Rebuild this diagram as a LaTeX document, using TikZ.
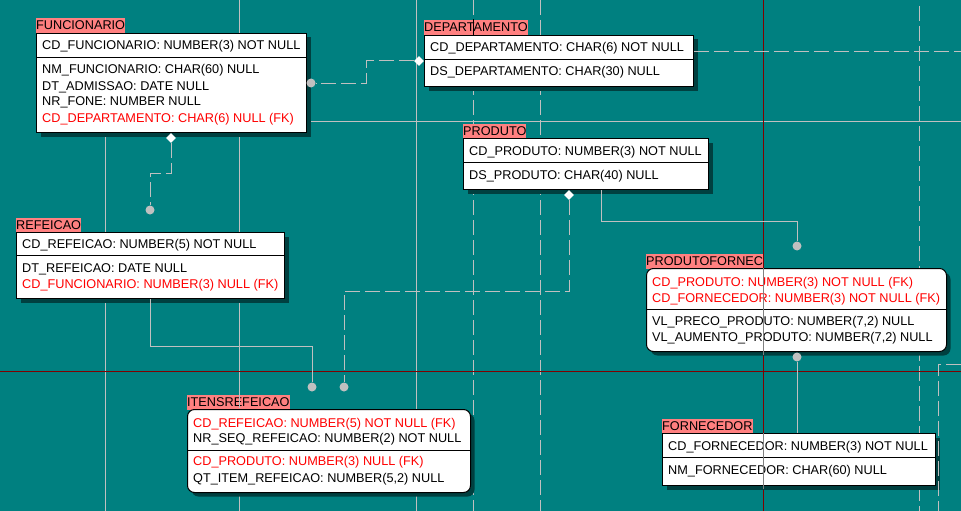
\documentclass[tikz,border=0pt]{standalone}
\usepackage{fontspec}
\setmainfont{Liberation Sans}
\usetikzlibrary{shapes.geometric,shadows}
\definecolor{bgteal}{HTML}{008080}
\definecolor{lgray}{HTML}{C0C0C0}
\definecolor{pgred}{HTML}{800000}
\definecolor{ttlred}{HTML}{FF8080}
\definecolor{fkred}{HTML}{FF0000}
\definecolor{shade}{HTML}{004040}
\begin{document}
\begin{tikzpicture}[x=1pt, y=-1pt,
  gridln/.style={draw=lgray, line width=1pt},
  pgbreak/.style={draw=lgray, line width=1pt, dash pattern=on 15pt off 5pt},
  redline/.style={draw=pgred, line width=1pt},
  ident/.style={draw=lgray, line width=1pt},
  nonident/.style={draw=lgray, line width=1pt, dash pattern=on 15pt off 5pt},
  tbl/.style={draw=black, fill=white, line width=1pt, anchor=north west, inner sep=0pt,
    drop shadow={shadow xshift=4pt, shadow yshift=-4pt, fill=shade, opacity=1}},
  ttl/.style={fill=ttlred, anchor=base west, inner xsep=0pt, inner ysep=1.5pt,
    text height=10pt, text depth=2pt, font=\fontsize{12.7}{15}\selectfont},
  attr/.style={anchor=base west, inner sep=0pt, font=\fontsize{12.7}{15}\selectfont},
  fk/.style={attr, text=fkred},
  fkdot/.style={circle, fill=lgray, inner sep=0pt, minimum size=9pt},
  pkdia/.style={diamond, fill=white, inner sep=0pt, minimum size=10pt}]
\fill[bgteal] (0,0) rectangle (961,511);
\useasboundingbox (0,0) rectangle (961,511);
% page grid
\draw[gridln] (105,133) -- (105,511);
\draw[gridln] (239,0) -- (239,511);
\draw[gridln] (416,0) -- (416,511);
\draw[gridln] (306,121) -- (961,121);
\draw[pgbreak] (473,0) -- (473,511);
\draw[pgbreak] (540,0) -- (540,511);
\draw[pgbreak] (919,6) -- (919,511);
\draw[redline] (763,0) -- (763,511);
\draw[redline] (0,371) -- (961,371);

% FUNCIONARIO
\node[ttl] (funT) at (36,30) {FUNCIONARIO};
\node[tbl, minimum width=270pt, minimum height=99pt] (fun) at (36,33) {};
\draw (36,57.5) -- (306,57.5);
\node[attr] (fun1) at (42,50) {CD\_FUNCIONARIO: NUMBER(3) NOT NULL};
\node[attr] (fun2) at (42,74) {NM\_FUNCIONARIO: CHAR(60) NULL};
\node[attr] (fun3) at (42,90) {DT\_ADMISSAO: DATE NULL};
\node[attr] (fun4) at (42,106) {NR\_FONE: NUMBER NULL};
\node[fk] (fun5) at (42,122) {CD\_DEPARTAMENTO: CHAR(6) NULL (FK)};

% DEPARTAMENTO
\node[ttl] (depT) at (424,32) {DEPARTAMENTO};
\node[tbl, minimum width=269pt, minimum height=51pt] (dep) at (424,35) {};
\draw (424,59.5) -- (693,59.5);
\node[attr] (dep1) at (430,52) {CD\_DEPARTAMENTO: CHAR(6) NOT NULL};
\node[attr] (dep2) at (430,76) {DS\_DEPARTAMENTO: CHAR(30) NULL};

% PRODUTO
\node[ttl] (prodT) at (463,135) {PRODUTO};
\node[tbl, minimum width=245pt, minimum height=51pt] (prod) at (463,138) {};
\draw (463,162.5) -- (708,162.5);
\node[attr] (prod1) at (469,155) {CD\_PRODUTO: NUMBER(3) NOT NULL};
\node[attr] (prod2) at (469,179) {DS\_PRODUTO: CHAR(40) NULL};

% REFEICAO
\node[ttl] (refT) at (16,229) {REFEICAO};
\node[tbl, minimum width=268pt, minimum height=66pt] (ref) at (16,232) {};
\draw (16,255) -- (284,255);
\node[attr] (ref1) at (22,248) {CD\_REFEICAO: NUMBER(5) NOT NULL};
\node[attr] (ref2) at (22,272) {DT\_REFEICAO: DATE NULL};
\node[fk] (ref3) at (22,288) {CD\_FUNCIONARIO: NUMBER(3) NULL (FK)};

% PRODUTOFORNEC
\node[ttl] (pfT) at (646,265) {PRODUTOFORNEC};
\node[tbl, rounded corners=7pt, minimum width=300pt, minimum height=83pt] (pf) at (646,268) {};
\draw (646,309) -- (946,309);
\node[fk] (pf1) at (652,286) {CD\_PRODUTO: NUMBER(3) NOT NULL (FK)};
\node[fk] (pf2) at (652,302) {CD\_FORNECEDOR: NUMBER(3) NOT NULL (FK)};
\node[attr] (pf3) at (652,325) {VL\_PRECO\_PRODUTO: NUMBER(7,2) NULL};
\node[attr] (pf4) at (652,341) {VL\_AUMENTO\_PRODUTO: NUMBER(7,2) NULL};

% ITENSREFEICAO
\node[ttl] (itT) at (187,406) {ITENSREFEICAO};
\node[tbl, rounded corners=7pt, minimum width=283pt, minimum height=83pt] (it) at (187,409) {};
\draw (187,450) -- (470,450);
\node[fk] (it1) at (193,427) {CD\_REFEICAO: NUMBER(5) NOT NULL (FK)};
\node[attr] (it2) at (193,442) {NR\_SEQ\_REFEICAO: NUMBER(2) NOT NULL};
\node[fk] (it3) at (193,465) {CD\_PRODUTO: NUMBER(3) NULL (FK)};
\node[attr] (it4) at (193,482) {QT\_ITEM\_REFEICAO: NUMBER(5,2) NULL};

% FORNECEDOR
\node[ttl] (fornT) at (662,430) {FORNECEDOR};
\node[tbl, minimum width=273pt, minimum height=52pt] (forn) at (662,433) {};
\draw (662,457.5) -- (935,457.5);
\node[attr] (forn1) at (668,450) {CD\_FORNECEDOR: NUMBER(3) NOT NULL};
\node[attr] (forn2) at (668,474) {NM\_FORNECEDOR: CHAR(60) NULL};

% relationship ends
\node[pkdia] (dFunS) at (171,138) {};
\node[fkdot] (dRefN) at (150,210) {};
\node[pkdia] (dDepW) at (419,61) {};
\node[fkdot] (dFunE) at (311,83) {};
\node[pkdia] (dProdS) at (569,195) {};
\node[fkdot] (dItA) at (312,387) {};
\node[fkdot] (dItB) at (344,387) {};
\node[fkdot] (dPfN) at (797,246) {};
\node[fkdot] (dPfS) at (797,357) {};
\coordinate (offE) at (961,52);
\coordinate (offE2) at (961,364);
\coordinate (offS) at (938,511);

% relationships
\draw[nonident] (dDepW) -| (366,83) -- (dFunE);
\draw[nonident] (dFunS) -- (171,173) -| (dRefN);
\draw[ident] ([xshift=134pt]ref.south west) -- (150,346) -| (dItA);
\draw[nonident] (dProdS) -- (569,291) -| (dItB);
\draw[ident] ([xshift=138pt]prod.south west) -- (601,221) -| (dPfN);
\draw[ident] (dPfS) -- (forn.north -| dPfS);
\draw[nonident] (dep.east |- offE) -- (offE);
\draw[nonident] (offE2) -| (offS);

% grid lines showing through
\draw[black!50, line width=1pt] (763,268) -- (763,355);
\draw[black!50, line width=1pt] (763,433) -- (763,489);
\draw[black, line width=1pt] (473,19) -- (473,35);
\draw[gridln] (239,394) -- (239,408);
\end{tikzpicture}
\end{document}
